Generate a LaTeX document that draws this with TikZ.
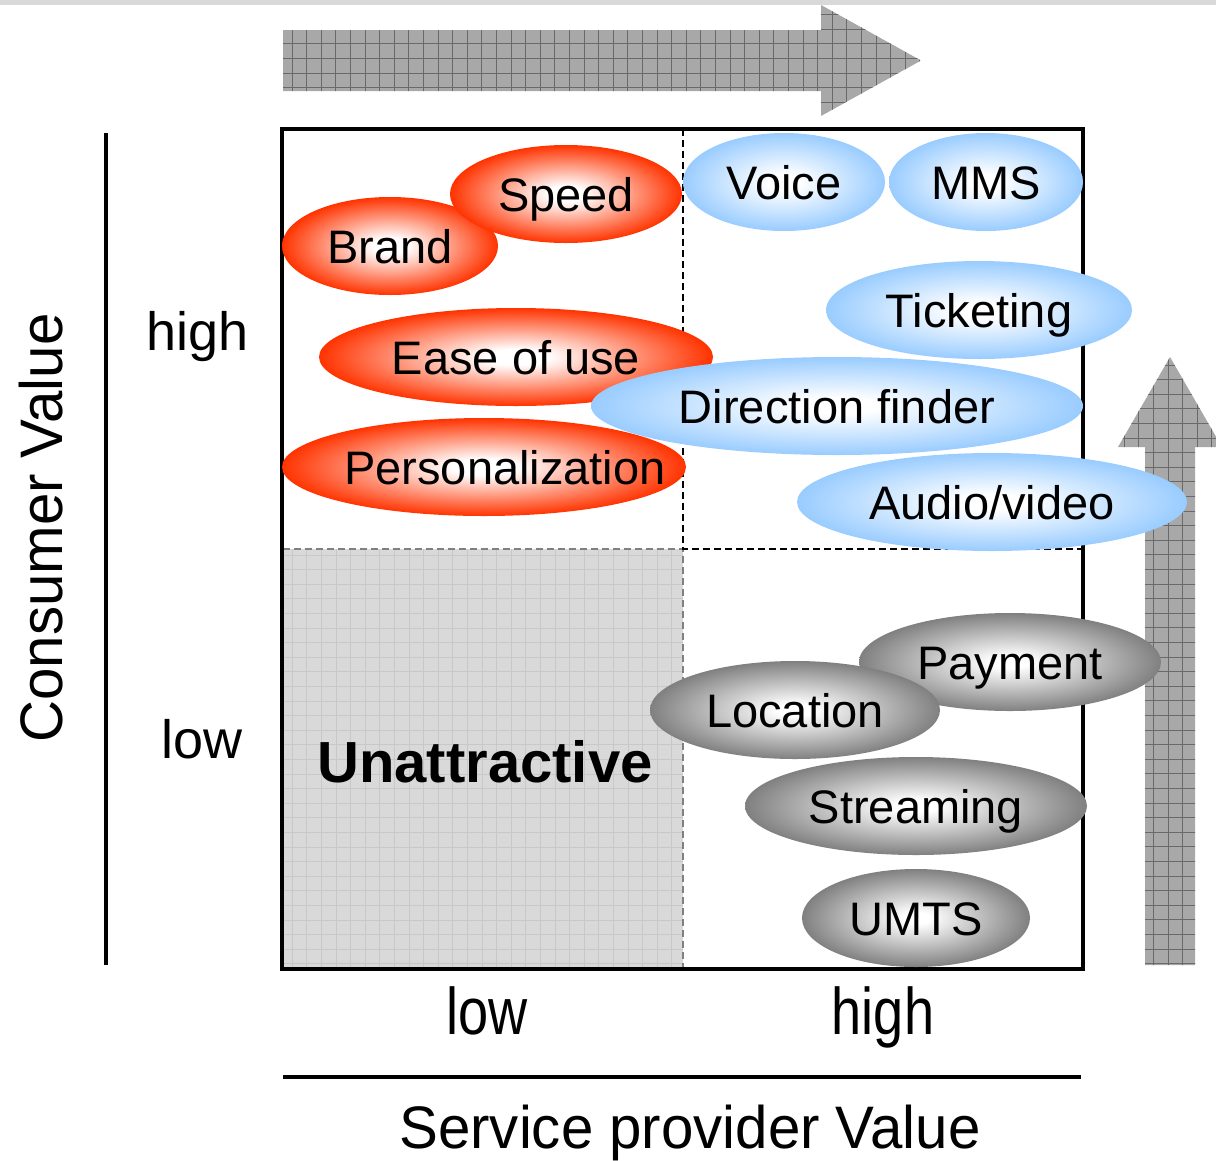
\documentclass[tikz,border=0pt]{standalone}
\usepackage{fontspec}
\setmainfont{Liberation Sans}
\newfontfamily\narrowfont[FakeStretch=0.82]{Liberation Sans}
\newfontfamily\slimfont[FakeStretch=0.97]{Liberation Sans}
\usetikzlibrary{shapes.geometric}
\definecolor{rededge}{RGB}{255,51,0}
\definecolor{blueedge}{RGB}{153,204,255}
\definecolor{grayedge}{RGB}{128,128,128}
\definecolor{arrowgray}{RGB}{168,168,168}
\definecolor{arrowgrid}{RGB}{105,105,105}
\definecolor{quadgray}{RGB}{217,217,217}
\definecolor{quadgrid}{RGB}{200,200,200}
\pgfdeclareradialshading{redglow}{\pgfpoint{0bp}{0bp}}{color(0bp)=(white); color(4bp)=(white); color(25bp)=(rededge); color(50bp)=(rededge)}
\pgfdeclareradialshading{blueglow}{\pgfpoint{0bp}{0bp}}{color(0bp)=(white); color(4bp)=(white); color(25bp)=(blueedge); color(50bp)=(blueedge)}
\pgfdeclareradialshading{grayglow}{\pgfpoint{0bp}{0bp}}{color(0bp)=(white); color(3bp)=(white); color(25bp)=(grayedge); color(50bp)=(grayedge)}
\begin{document}
\begin{tikzpicture}[x=1pt, y=-1pt,
    tag/.style={font=\fontsize{47}{56}\selectfont, text height=34pt, text depth=0pt, inner sep=0pt},
    bubble/.style={tag, ellipse, shade, minimum width=#1, minimum height=98pt},
    redbub/.style={bubble=#1, shading=redglow},
    bluebub/.style={bubble=#1, shading=blueglow},
    graybub/.style={bubble=#1, shading=grayglow},
    axis/.style={line width=4.2pt},
    level/.style={font=\fontsize{54}{64}\selectfont, anchor=base},
    dashline/.style={line width=1.4pt, dash pattern=on 7pt off 4pt}]
  \useasboundingbox (0,0) rectangle (1216,1160);
  \fill[quadgray] (0,0) rectangle (1216,4.5);
  \begin{scope}
    \path[clip] (283,30) -- (821,30) -- (821,5) -- (921,60.5) -- (821,116) -- (821,91) -- (283,91) -- cycle;
    \fill[arrowgray] (283,0) rectangle (921,120);
    \draw[arrowgrid, line width=0.7pt, step=14.6pt] (280,120) grid (925,0);
  \end{scope}
  \begin{scope}
    \path[clip] (1145,965) -- (1145,447) -- (1118,447) -- (1170,357) -- (1222,447) -- (1195,447) -- (1195,965) -- cycle;
    \fill[arrowgray] (1110,350) rectangle (1222,970);
    \draw[arrowgrid, line width=0.7pt, step=14.6pt] (1110,970) grid (1222,350);
  \end{scope}
  \fill[quadgray] (283,549) rectangle (683,969);
  \begin{scope}
    \clip (283,549) rectangle (683,969);
    \draw[quadgrid, line width=0.5pt, step=14.6pt] (283,975) grid (690,545);
  \end{scope}
  \draw[dashline, gray] (283,549) -- (683,549) -- (683,969);
  \draw[dashline] (683,129) -- (683,549) -- (1083,549);
  \draw[axis] (282,129) rectangle (1083,969);
  \node[redbub=216] (brand) at (390,246) {Brand};
  \node[redbub=232] (speed) at (566,194) {Speed};
  \node[redbub=394] (ease) at (516,357) {Ease of use};
  \node[redbub=404] (pers) at (484,467) {};
  \node[tag] (perslbl) at (505,467) {Personalization};
  \node[bluebub=202] (voice) at (784,182) {Voice};
  \node[bluebub=194] (mms) at (986,182) {MMS};
  \node[bluebub=306] (ticket) at (979,310) {Ticketing};
  \node[bluebub=492] (dirfind) at (837,406) {Direction finder};
  \node[bluebub=390] (audio) at (992,502) {Audio/video};
  \node[graybub=302] (pay) at (1010,662) {Payment};
  \node[graybub=290] (loc) at (795,710) {Location};
  \node[graybub=342] (stream) at (916,806) {Streaming};
  \node[graybub=228] (umts) at (916,918) {UMTS};
  \node[font=\bfseries\fontsize{58}{68}\selectfont, anchor=base] (unatt) at (485,782) {Unattractive};
  \draw[axis] (106,133) -- (106,965);
  \draw[axis] (283,1077) -- (1081,1077);
  \node[level] (yhigh) at (198,350) {high};
  \node[level] (ylow) at (202,758) {low};
  \node[font=\narrowfont\fontsize{66}{76}\selectfont, anchor=base] (xlow) at (487,1034) {low};
  \node[font=\narrowfont\fontsize{66}{76}\selectfont, anchor=base] (xhigh) at (883,1034) {high};
  \node[font=\slimfont\fontsize{60}{70}\selectfont, anchor=base] (xtitle) at (690,1148) {Service provider Value};
  \node[font=\slimfont\fontsize{60}{70}\selectfont, anchor=base, rotate=90] (ytitle) at (62,528) {Consumer Value};
\end{tikzpicture}
\end{document}
